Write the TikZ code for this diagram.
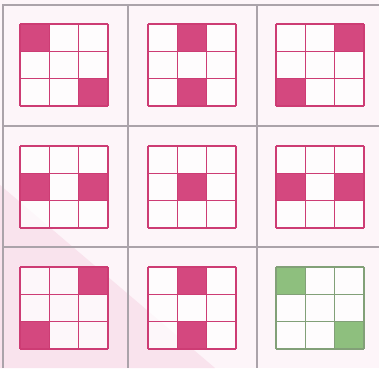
\documentclass[tikz,border=0pt]{standalone}
\usetikzlibrary{calc}
\definecolor{bgpink}{HTML}{FDF5F9}
\definecolor{bgband}{HTML}{F9E3ED}
\definecolor{divgray}{HTML}{ABA3AA}
\definecolor{pinkline}{HTML}{CD3C74}
\definecolor{pinkfill}{HTML}{D4487F}
\definecolor{greenline}{HTML}{82A078}
\definecolor{greenfill}{HTML}{8EBF7E}
\tikzset{
  pinkcellfill/.style={fill=pinkfill},
  pinkcellline/.style={draw=pinkline,line width=1.2pt},
  greencellfill/.style={fill=greenfill},
  greencellline/.style={draw=greenline,line width=1.2pt},
  divider/.style={draw=divgray,line width=1.1pt},
}
\newcommand\mygrid[4]{%
  \begin{scope}[shift={(#1,#2)}]
    \fill[white,opacity=0.75] (0,0) rectangle (88,82);
    \foreach \i/\j in {#3} {\fill[#4cellfill] (\i*88/3,\j*82/3) rectangle ++(88/3,82/3);}
    \foreach \k in {0,1,2,3} {
      \draw[#4cellline] (\k*88/3,0) -- (\k*88/3,82);
      \draw[#4cellline] (0,\k*82/3) -- (88,\k*82/3);
    }
  \end{scope}}
\begin{document}
\begin{tikzpicture}[x=1pt,y=-1pt]
  \useasboundingbox (0,0) rectangle (379,368);
  \fill[bgpink] (0,0) rectangle (379,368);
  \fill[bgband] (0,185) -- (215,368) -- (0,368) -- cycle;
  % dividers
  \draw[divider] (3,368) -- (3,5) -- (379,5);
  \draw[divider] (128,5) -- (128,368);
  \draw[divider] (257,5) -- (257,368);
  \draw[divider] (3,126) -- (379,126);
  \draw[divider] (3,247) -- (379,247);
  % row 1
  \mygrid{20}{24}{0/0,2/2}{pink}
  \mygrid{148}{24}{1/0,1/2}{pink}
  \mygrid{276}{24}{2/0,0/2}{pink}
  % row 2
  \mygrid{20}{146}{0/1,2/1}{pink}
  \mygrid{148}{146}{1/1}{pink}
  \mygrid{276}{146}{0/1,2/1}{pink}
  % row 3
  \mygrid{20}{267}{2/0,0/2}{pink}
  \mygrid{148}{267}{1/0,1/2}{pink}
  \mygrid{276}{267}{0/0,2/2}{green}
\end{tikzpicture}
\end{document}
